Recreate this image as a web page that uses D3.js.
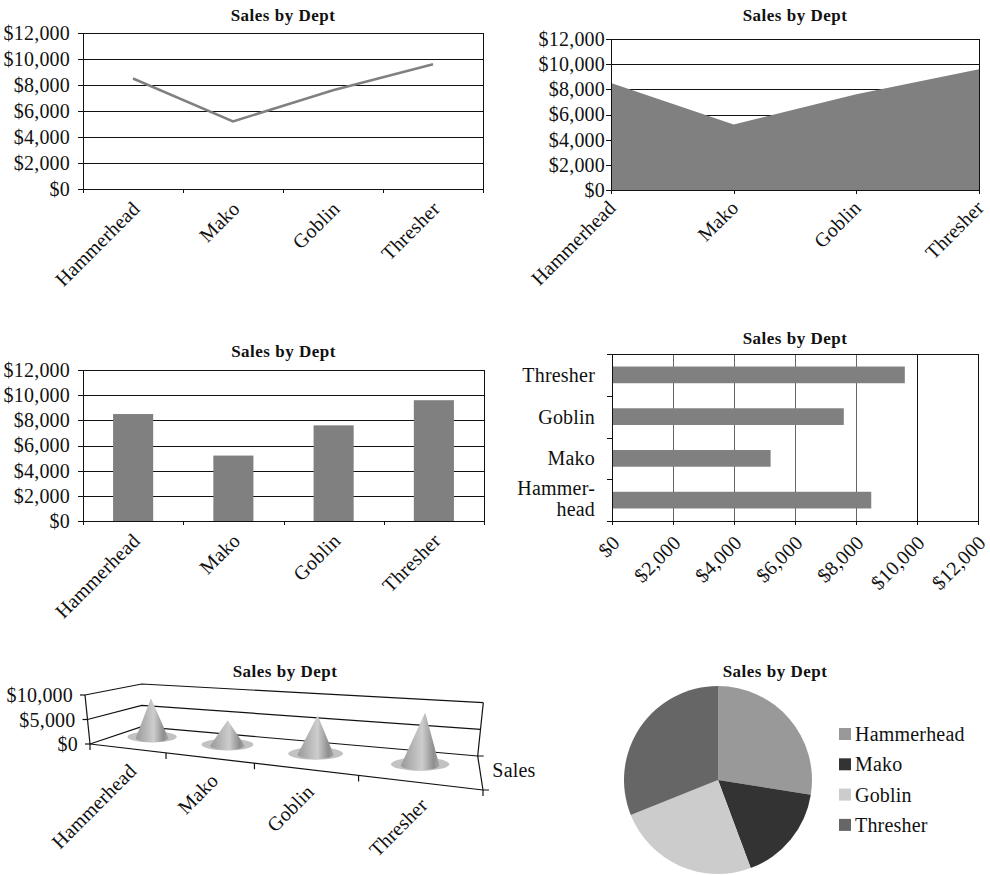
<!DOCTYPE html>
<html lang="en">
<head>
<meta charset="UTF-8">
<title>Sales by Dept</title>
<style>
  body { margin: 0; background: #fff; }
  svg { display: block; }
  text { font-family: "Liberation Serif", serif; font-size: 20px; letter-spacing: 0.2px; fill: #111; }
  .title { font-size: 17px; font-weight: bold; letter-spacing: 0.5px; }
  .grid { stroke: #111; stroke-width: 1; shape-rendering: crispEdges; fill: none; }
  .axis path, .axis line { stroke: #111; shape-rendering: crispEdges; }
  .axis text { font-family: "Liberation Serif", serif; font-size: 20px; fill: #111; }
  .wall { stroke: #111; stroke-width: 1.2; fill: none; }
</style>
</head>
<body>
<script src="https://cdn.jsdelivr.net/npm/d3@7"></script>
<script>
var depts = ["Hammerhead", "Mako", "Goblin", "Thresher"];
var sales = [8500, 5200, 7600, 9600];
var moneyTicks = [0, 2000, 4000, 6000, 8000, 10000, 12000];
var coneTicks = [0, 5000, 10000];
var sliceColors = ["#999999", "#333333", "#cccccc", "#666666"];
var chartTitle = "Sales by Dept";
var seriesName = "Sales";

var money = d3.format("$,");
var barGray = "#808080";

var svg = d3.select("body").append("svg")
    .attr("width", 990)
    .attr("height", 875);

function addTitle(x, y) {
    svg.append("text").attr("class", "title")
        .attr("x", x).attr("y", y)
        .attr("text-anchor", "middle")
        .text(chartTitle);
}

// common frame for the three vertical charts
function frame(x0, x1, top, bottom, pad) {
    var y = d3.scaleLinear().domain([0, 12000]).range([bottom, top]);
    var g = svg.append("g");
    g.selectAll("line.grid").data(moneyTicks.slice(1)).join("line")
        .attr("class", "grid")
        .attr("x1", x0).attr("x2", x1)
        .attr("y1", function (d) { return Math.round(y(d)) + 0.5; })
        .attr("y2", function (d) { return Math.round(y(d)) + 0.5; });
    g.append("line").attr("class", "grid")
        .attr("x1", x1).attr("x2", x1).attr("y1", top).attr("y2", bottom);
    return { g: g, y: y, pad: pad, x0: x0, x1: x1, bottom: bottom };
}

function axes(f, boundaryScale, labelX, dx, dy) {
    f.g.append("g").attr("class", "axis")
        .attr("transform", "translate(" + f.x0 + ",0)")
        .call(d3.axisLeft(f.y).tickValues(moneyTicks).tickFormat(money)
            .tickSize(5).tickSizeOuter(0).tickPadding(f.pad));
    f.g.append("g").attr("class", "axis")
        .attr("transform", "translate(0," + f.bottom + ")")
        .call(boundaryScale);
    f.g.selectAll("text.cat").data(depts).join("text")
        .attr("class", "cat")
        .attr("text-anchor", "end")
        .attr("transform", function (d) {
            return "translate(" + (labelX(d) + dx) + "," + (f.bottom + dy) + ") rotate(-45)";
        })
        .text(function (d) { return d; });
}

// ---- 1. line chart
(function () {
    var x0 = 83, x1 = 483;
    addTitle((x0 + x1) / 2, 21);
    var f = frame(x0, x1, 33, 189, 8);
    var x = d3.scaleBand().domain(depts).range([x0, x1]);
    var idx = d3.scaleLinear().domain([0, depts.length]).range([x0, x1]);
    var line = d3.line()
        .x(function (d, i) { return x(depts[i]) + x.bandwidth() / 2; })
        .y(function (d) { return f.y(d); });
    f.g.append("path").datum(sales)
        .attr("d", line)
        .attr("fill", "none")
        .attr("stroke", barGray)
        .attr("stroke-width", 2.5);
    axes(f, d3.axisBottom(idx).ticks(depts.length).tickFormat("").tickSize(4).tickSizeOuter(0),
        function (d) { return x(d) + x.bandwidth() / 2; }, 8, 21);
})();

// ---- 2. area chart
(function () {
    var x0 = 611, x1 = 979;
    addTitle((x0 + x1) / 2, 21);
    var y = d3.scaleLinear().domain([0, 12000]).range([190, 39]);
    var x = d3.scalePoint().domain(depts).range([x0, x1]);
    var g = svg.append("g");
    g.selectAll("line.grid").data(moneyTicks.slice(1)).join("line")
        .attr("class", "grid")
        .attr("x1", x0).attr("x2", x1)
        .attr("y1", function (d) { return Math.round(y(d)) + 0.5; })
        .attr("y2", function (d) { return Math.round(y(d)) + 0.5; });
    var area = d3.area()
        .x(function (d, i) { return x(depts[i]); })
        .y0(y(0))
        .y1(function (d) { return y(d); });
    g.append("path").datum(sales).attr("d", area).attr("fill", barGray);
    g.append("line").attr("class", "grid")
        .attr("x1", x1).attr("x2", x1).attr("y1", y(12000)).attr("y2", y(0));
    var f = { g: g, y: y, pad: 1, x0: x0, x1: x1, bottom: 190 };
    axes(f, d3.axisBottom(x).tickFormat("").tickSize(4).tickSizeOuter(0),
        function (d) { return x(d); }, 6, 19);
})();

// ---- 3. column chart
(function () {
    var x0 = 83, x1 = 484;
    addTitle((x0 + x1) / 2, 357);
    var f = frame(x0, x1, 370, 521, 8);
    var x = d3.scaleBand().domain(depts).range([x0, x1]).paddingInner(0.6).paddingOuter(0.3);
    var idx = d3.scaleLinear().domain([0, depts.length]).range([x0, x1]);
    f.g.selectAll("rect").data(sales).join("rect")
        .attr("x", function (d, i) { return x(depts[i]); })
        .attr("width", x.bandwidth())
        .attr("y", function (d) { return f.y(d); })
        .attr("height", function (d) { return f.y(0) - f.y(d); })
        .attr("fill", barGray);
    axes(f, d3.axisBottom(idx).ticks(depts.length).tickFormat("").tickSize(4).tickSizeOuter(0),
        function (d) { return x(d) + x.bandwidth() / 2; }, 8, 21);
})();

// ---- 4. bar chart
(function () {
    var x0 = 612, x1 = 978, top = 354, bottom = 521;
    addTitle((x0 + x1) / 2, 344);
    var x = d3.scaleLinear().domain([0, 12000]).range([x0, x1]);
    var y = d3.scaleBand().domain(depts.slice().reverse()).range([top, bottom])
        .paddingInner(0.6).paddingOuter(0.3);
    var idx = d3.scaleLinear().domain([0, depts.length]).range([bottom, top]);
    var g = svg.append("g");
    g.selectAll("line.vgrid").data(moneyTicks.slice(1)).join("line")
        .attr("class", "grid")
        .style("stroke", function (d) { return d < 10000 ? "#666" : "#111"; })
        .attr("x1", function (d) { return Math.round(x(d)) + 0.5; })
        .attr("x2", function (d) { return Math.round(x(d)) + 0.5; })
        .attr("y1", top).attr("y2", bottom);
    g.append("line").attr("class", "grid")
        .attr("x1", x0).attr("x2", x1).attr("y1", top + 0.5).attr("y2", top + 0.5);
    g.selectAll("rect").data(sales).join("rect")
        .attr("x", x(0))
        .attr("y", function (d, i) { return y(depts[i]); })
        .attr("height", y.bandwidth())
        .attr("width", function (d) { return x(d) - x(0); })
        .attr("fill", barGray);
    g.append("g").attr("class", "axis")
        .attr("transform", "translate(" + x0 + ",0)")
        .call(d3.axisLeft(idx).ticks(depts.length).tickFormat("").tickSize(5).tickSizeOuter(0));
    g.append("g").attr("class", "axis")
        .attr("transform", "translate(0," + bottom + ")")
        .call(d3.axisBottom(x).tickValues(moneyTicks).tickFormat("").tickSize(4).tickSizeOuter(0));
    // category labels, long names hyphenated over two lines
    g.selectAll("text.cat").data(depts).join("text")
        .attr("class", "cat")
        .attr("text-anchor", "end")
        .attr("x", 595)
        .attr("y", function (d) { return y(d) + y.bandwidth() / 2; })
        .each(function (d) {
            var t = d3.select(this);
            if (d.length > 8) {
                var cut = 5;
                t.append("tspan").attr("x", 595).attr("dy", "-0.25em").text(d.slice(0, cut + 1) + "-");
                t.append("tspan").attr("x", 595).attr("dy", "1.05em").text(d.slice(cut + 1));
            } else {
                t.attr("dy", "0.35em").text(d);
            }
        });
    g.selectAll("text.val").data(moneyTicks).join("text")
        .attr("class", "val")
        .attr("text-anchor", "end")
        .attr("transform", function (d) {
            return "translate(" + (x(d) + 9) + "," + (bottom + 23) + ") rotate(-45)";
        })
        .text(money);
})();

// ---- 5. 3-D cone chart
(function () {
    addTitle(285, 677);
    // floor and top plane corners: front-left, front-right, back-left, back-right
    var F0 = [90, 744], F1 = [483, 790], B0 = [141.7, 726.7], B1 = [477.7, 756];
    var T0 = [85, 695], T1 = [491, 729], TB0 = [141.7, 684], TB1 = [483.3, 702.7];
    var depthRatio = 1.39;
    function persp(u) { return u / (u + depthRatio * (1 - u)); }
    function lerp(a, b, t) { return [a[0] + (b[0] - a[0]) * t, a[1] + (b[1] - a[1]) * t]; }
    var vz = d3.scaleLinear().domain([0, 10000]).range([0, 1]);
    function P(u, d, v) {
        var p = persp(u);
        var fl = lerp(lerp(F0, F1, p), lerp(B0, B1, p), d);
        var tp = lerp(lerp(T0, T1, p), lerp(TB0, TB1, p), d);
        return lerp(fl, tp, vz(v));
    }
    var u = d3.scaleBand().domain(depts).range([0, 1]);
    var g = svg.append("g");

    var defs = svg.append("defs");
    var grad = defs.append("linearGradient").attr("id", "coneFill");
    [[0, "#9a9a9a"], [0.55, "#cdcdcd"], [0.85, "#8e8e8e"], [1, "#a6a6a6"]].forEach(function (s) {
        grad.append("stop").attr("offset", s[0]).attr("stop-color", s[1]);
    });

    // walls: gridlines run along left wall then back wall
    g.selectAll("path.wall").data(coneTicks).join("path")
        .attr("class", "wall")
        .attr("d", function (v) { return "M" + P(0, 0, v) + "L" + P(0, 1, v) + "L" + P(1, 1, v); });
    g.append("path").attr("class", "wall")
        .attr("d", "M" + P(1, 1, 0) + "L" + P(1, 1, 10000));
    // value axis
    g.append("path").attr("class", "wall")
        .attr("d", "M" + P(0, 0, 0) + "L" + P(0, 0, 10000));
    g.selectAll("path.vtick").data(coneTicks).join("path")
        .attr("class", "wall")
        .attr("d", function (v) { var p = P(0, 0, v); return "M" + p + "l-5,0"; });
    g.selectAll("text.vlab").data(coneTicks).join("text")
        .attr("text-anchor", "end")
        .attr("x", function (v) { return P(0, 0, v)[0] - 12; })
        .attr("y", function (v) { return P(0, 0, v)[1]; })
        .attr("dy", "0.35em")
        .text(money);
    // category axis (front floor edge)
    g.append("path").attr("class", "wall")
        .attr("d", "M" + P(0, 0, 0) + "L" + P(1, 0, 0));
    g.selectAll("path.ctick").data(d3.range(depts.length + 1)).join("path")
        .attr("class", "wall")
        .attr("d", function (i) { return "M" + P(i / depts.length, 0, 0) + "l0,6"; });
    g.selectAll("text.cat").data(depts).join("text")
        .attr("text-anchor", "end")
        .attr("transform", function (d) {
            var p = P(u(d) + u.bandwidth() / 2, 0, 0);
            return "translate(" + (p[0] + 11) + "," + (p[1] + 24) + ") rotate(-45)";
        })
        .text(function (d) { return d; });
    // series axis (right floor edge)
    g.append("path").attr("class", "wall")
        .attr("d", "M" + P(1, 0, 0) + "L" + P(1, 1, 0) + "l6,0M" + P(1, 0, 0) + "l6,0");
    var mid = P(1, 0.5, 0);
    g.append("text").attr("x", mid[0] + 12).attr("y", mid[1] - 3).attr("dy", "0.35em").text(seriesName);

    // cones
    var dep = 0.55;
    var cones = g.selectAll("g.cone").data(sales).join("g");
    cones.each(function (v, i) {
        var uc = u(depts[i]) + u.bandwidth() / 2;
        var c = P(uc, dep, 0), t = P(uc, dep, v);
        var k = c[1] - P(uc, dep, 10000)[1];
        var r = 0.35 * k, ry = 0.09 * k;
        var s = d3.select(this);
        s.append("ellipse")
            .attr("cx", c[0]).attr("cy", c[1] - 1)
            .attr("rx", 0.53 * k).attr("ry", 0.12 * k)
            .attr("fill", "#c2c2c2");
        s.append("path")
            .attr("d", "M" + (c[0] - r) + "," + c[1] + "L" + t + "L" + (c[0] + r) + "," + c[1] +
                "A" + r + "," + ry + " 0 0 1 " + (c[0] - r) + "," + c[1] + "Z")
            .attr("fill", "url(#coneFill)");
    });
})();

// ---- 6. pie chart
(function () {
    addTitle(775, 677);
    var cx = 718, cy = 780, r = 94;
    var pie = d3.pie().sort(null);
    var arc = d3.arc().innerRadius(0).outerRadius(r);
    var color = d3.scaleOrdinal().domain(depts).range(sliceColors);
    var g = svg.append("g").attr("transform", "translate(" + cx + "," + cy + ")");
    g.selectAll("path").data(pie(sales)).join("path")
        .attr("d", arc)
        .attr("fill", function (d, i) { return color(depts[i]); });
    var leg = svg.append("g").attr("transform", "translate(839,734)");
    var row = d3.scaleLinear().domain([0, 1]).range([0, 30.3]);
    var items = leg.selectAll("g").data(depts).join("g")
        .attr("transform", function (d, i) { return "translate(0," + row(i) + ")"; });
    items.append("rect").attr("x", 0).attr("y", -6).attr("width", 12).attr("height", 12)
        .attr("fill", function (d) { return color(d); });
    items.append("text").attr("x", 16).attr("dy", "0.35em").text(function (d) { return d; });
})();
</script>
</body>
</html>
